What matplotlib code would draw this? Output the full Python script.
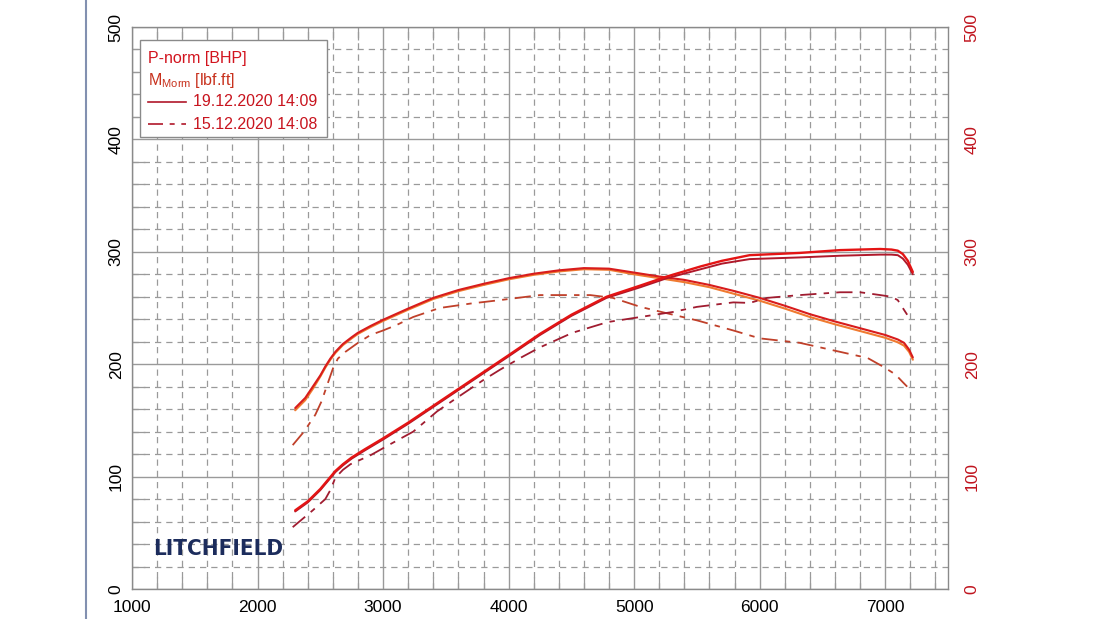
import numpy as np
import matplotlib as mpl
mpl.use('Agg')
import matplotlib.pyplot as pl
from matplotlib.ticker import MultipleLocator
from matplotlib.lines import Line2D
from matplotlib.patches import Rectangle

mpl.rcParams['font.family'] = ['Liberation Sans', 'DejaVu Sans']
mpl.rcParams['mathtext.default'] = 'regular'

# 19.12.2020 14:09 - power (two traces)
rpm_p1 = [2300, 2400, 2500, 2560, 2620, 2680, 2750, 2850, 3000, 3200, 3400, 3600, 3800, 4000, 4250, 4500, 4780,
          5050, 5260, 5530, 5700, 5920, 6320, 6640, 6960, 7050, 7100, 7140, 7180, 7220]
pwr_a = [70, 78, 89, 97, 105, 111, 117, 124, 134, 148, 163, 178, 193, 208, 227, 244, 260,
         270, 278, 287, 292, 297, 299, 301.5, 302.5, 302, 301, 298, 292, 282]
pwr_b = [69, 77, 88, 96, 104, 110, 116, 123, 133, 147, 162, 177, 192, 207, 226, 243, 259,
         268.5, 276.5, 284.5, 289.5, 293.5, 295, 296.5, 297.5, 297.5, 297, 294, 288.5, 280]

# 19.12.2020 14:09 - torque (two traces)
rpm_t1 = [2300, 2380, 2440, 2500, 2540, 2580, 2620, 2680, 2750, 2800, 2900, 3000, 3200, 3400, 3600, 3800, 4000,
          4200, 4400, 4600, 4800, 5000, 5200, 5400, 5600, 5800, 6000, 6200, 6400, 6600, 6800, 7000, 7100, 7150,
          7190, 7220]
trq_a = [161, 170, 180, 190, 198, 205, 211, 218, 224, 228, 234, 239.5, 249.5, 259, 266, 271.5, 276.5,
         280.5, 283.5, 285.5, 285, 281.5, 278, 275, 270.5, 265, 259, 252, 244.5, 238, 232, 226, 222, 219,
         213, 206]
trq_b = [159, 168, 178, 189, 197, 204, 210, 217, 223, 227, 233, 238.5, 248.5, 258, 265, 270.5, 275.5,
         279.5, 282.5, 284.5, 284, 280, 276.5, 273, 268.5, 262.5, 256.5, 249.5, 242, 235.5, 229.5, 223.5, 219.5,
         216.5, 211, 204]

# 15.12.2020 14:08
rpm_p2 = [2280, 2440, 2540, 2580, 2620, 2680, 2740, 2900, 3060, 3240, 3430, 3600, 3800, 3930, 4100, 4250, 4510,
          4790, 5050, 5310, 5500, 5790, 5920, 6060, 6320, 6640, 6800, 6960, 7050, 7100, 7140, 7175]
pwr_c = [55, 70, 80, 88, 99, 106, 111, 119, 129, 140, 158, 171, 186, 195, 206, 215, 228,
         237.5, 242, 246.5, 251, 255, 254.5, 259, 261.5, 264, 264, 261.5, 260, 257, 250, 244]
rpm_t2 = [2280, 2370, 2460, 2510, 2550, 2600, 2640, 2700, 2800, 2900, 3000, 3110, 3240, 3450, 3700, 3930, 4250,
          4650, 4830, 5050, 5310, 5500, 5790, 6000, 6320, 6640, 6860, 6980, 7080, 7140, 7175]
trq_c = [128, 140, 155, 167, 180, 196, 205, 211, 219, 226, 230, 235, 242, 250, 254, 257, 261.5,
         261.5, 259, 251, 244, 239, 230, 223, 219, 211, 205.5, 198, 191, 184, 180]

x_ticks = [1000, 2000, 3000, 4000, 5000, 6000, 7000]
y_ticks = [0, 100, 200, 300, 400, 500]

fig = pl.figure(figsize=(11, 6.19), dpi=100)
ax = fig.add_axes([132 / 1100, 30 / 619, 816 / 1100, 562 / 619])

gray = '#9a9a9a'
ax.set_xlim(1000, 7500)
ax.set_ylim(0, 500)
ax.set_xticks(x_ticks)
ax.set_yticks(y_ticks)
ax.xaxis.set_minor_locator(MultipleLocator(200))
ax.yaxis.set_minor_locator(MultipleLocator(20))
ax.grid(which='major', color=gray, linewidth=1.0, linestyle='-')
ax.grid(which='minor', color=gray, linewidth=0.9, linestyle=(0, (5, 4)))
ax.set_axisbelow(True)
for s in ax.spines.values():
    s.set_color('#8a8a8a')
    s.set_linewidth(1.0)
ax.tick_params(which='major', length=0, labelsize=12.5)
ax.tick_params(which='minor', direction='in', length=9, color=gray, width=0.9,
               top=True, right=True, bottom=True, left=True)
ax.tick_params(axis='x', pad=8)
ax.tick_params(axis='y', labelrotation=90, pad=6)
for lab in ax.get_yticklabels():
    lab.set_va('center')

ax2 = ax.twinx()
ax2.set_ylim(0, 500)
ax2.set_yticks(y_ticks)
ax2.tick_params(axis='y', length=0, labelsize=12.5, labelcolor='#c0141e', labelrotation=90, pad=12)
for lab in ax2.get_yticklabels():
    lab.set_va('center')
for s in ax2.spines.values():
    s.set_visible(False)

dash = (0, (9, 4, 3, 4))
ax.plot(rpm_t1, trq_b, color='#f07a30', lw=1.5, solid_capstyle='round', solid_joinstyle='round')
ax.plot(rpm_t1, trq_a, color='#d81c1c', lw=1.5, solid_capstyle='round', solid_joinstyle='round')
ax.plot(rpm_p1, pwr_b, color='#b0182a', lw=1.4, solid_capstyle='round', solid_joinstyle='round')
ax.plot(rpm_p1, pwr_a, color='#e41414', lw=1.7, solid_capstyle='round', solid_joinstyle='round')
ax.plot(rpm_t2, trq_c, color='#c0402a', lw=1.3, linestyle=dash)
ax.plot(rpm_p2, pwr_c, color='#a01c30', lw=1.3, linestyle=dash)

# legend box drawn by hand
def fx(px):
    return (px - 132) / 816.0

def fy(py):
    return (592 - py) / 562.0

ax.add_patch(Rectangle((fx(140), fy(140)), fx(327) - fx(140), fy(43) - fy(140),
                       transform=ax.transAxes, facecolor='white', edgecolor='#8a8a8a', lw=1.0, zorder=5))
ax.text(fx(148), fy(61), 'P-norm [BHP]', transform=ax.transAxes, color='#d2141e',
        fontsize=11.5, va='center', ha='left', zorder=6)
ax.text(fx(148), fy(83), 'M$_{Morm}$ [lbf.ft]', transform=ax.transAxes, color='#c8321e',
        fontsize=11.5, va='center', ha='left', zorder=6)
ax.add_line(Line2D([fx(148), fx(186)], [fy(105), fy(105)], transform=ax.transAxes,
                   color='#b0182a', lw=1.2, zorder=6))
ax.add_line(Line2D([fx(148), fx(186)], [fy(127), fy(127)], transform=ax.transAxes,
                   color='#b0182a', lw=1.2, linestyle=dash, zorder=6))
ax.text(fx(193), fy(105), '19.12.2020 14:09', transform=ax.transAxes, color='#c8141e',
        fontsize=11.5, va='center', ha='left', zorder=6)
ax.text(fx(193), fy(127), '15.12.2020 14:08', transform=ax.transAxes, color='#c8141e',
        fontsize=11.5, va='center', ha='left', zorder=6)

ax.text(fx(153), fy(558), 'LITCHFIELD', transform=ax.transAxes, color='#1c2c5c',
        fontsize=16, fontweight='bold', family='DejaVu Sans',
        fontstretch='condensed', va='baseline', ha='left', zorder=6)

fig.add_artist(Line2D([86 / 1100, 86 / 1100], [0, 1], transform=fig.transFigure,
                      color='#8290b0', lw=1.5))

fig.savefig('out.png', dpi=100)
pl.close()
